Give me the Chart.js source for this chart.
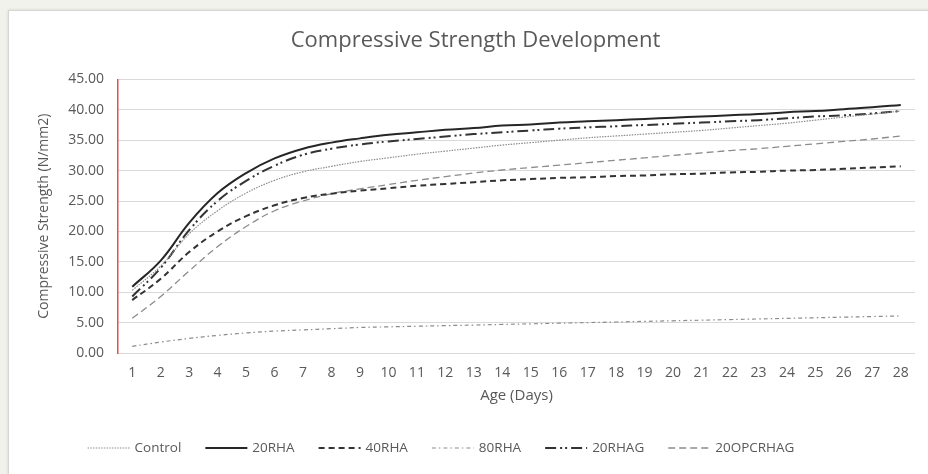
<!DOCTYPE html>
<html>
<head>
<meta charset="utf-8">
<script src="https://cdn.jsdelivr.net/npm/chart.js@4.4.1/dist/chart.umd.min.js"></script>
<style>
  html, body { margin: 0; padding: 0; }
  body { width: 928px; height: 474px; background: #f2f2ed; position: relative; overflow: hidden; }
  .card {
    position: absolute; left: 8px; top: 10px; width: 940px; height: 480px;
    background: #fff; border: 1px solid #d6d6d2; box-shadow: 0 0 3px rgba(0,0,0,0.12);
  }
  #wrap { position: absolute; left: 0; top: 0; width: 928px; height: 474px; }
</style>
</head>
<body>
<div class="card"></div>
<div id="wrap"><canvas id="chart"></canvas></div>
<script>
// ─── Dados ────────────────────────────────────────────────
const days = [1,2,3,4,5,6,7,8,9,10,11,12,13,14,15,16,17,18,19,20,21,22,23,24,25,26,27,28];

const control   = [10.3,14.3,19.6,23.4,26.3,28.4,29.8,30.7,31.5,32.1,32.7,33.2,33.7,34.2,34.6,35.0,35.4,35.7,36.0,36.3,36.6,37.0,37.4,37.8,38.3,38.8,39.3,39.8];
const rha20     = [10.9,15.2,21.4,26.3,29.6,32.0,33.6,34.6,35.3,35.9,36.3,36.7,37.0,37.4,37.6,37.9,38.1,38.3,38.5,38.7,38.9,39.1,39.3,39.6,39.8,40.1,40.4,40.8];
const rha40     = [8.7,12.2,16.6,20.0,22.5,24.3,25.5,26.2,26.7,27.1,27.5,27.8,28.1,28.4,28.6,28.8,28.9,29.1,29.2,29.4,29.5,29.7,29.8,30.0,30.1,30.3,30.5,30.7];
const rha80     = [1.1,1.8,2.4,2.9,3.3,3.6,3.8,4.0,4.2,4.3,4.4,4.5,4.6,4.7,4.8,4.9,5.0,5.1,5.2,5.3,5.4,5.5,5.6,5.7,5.8,5.9,6.0,6.1];
const rhag20    = [9.3,14.0,20.2,25.0,28.3,30.8,32.6,33.6,34.3,34.8,35.2,35.6,36.0,36.3,36.6,36.9,37.1,37.3,37.5,37.7,37.9,38.1,38.3,38.6,38.9,39.1,39.4,39.8];
const opcrhag20 = [5.7,9.3,13.5,17.5,20.8,23.4,25.0,26.2,27.0,27.7,28.4,29.0,29.6,30.1,30.5,30.9,31.3,31.7,32.1,32.5,32.9,33.3,33.6,34.0,34.4,34.8,35.2,35.7];

const yTicks = [0,5,10,15,20,25,30,35,40,45];

const TEXT = '#595959';
const FONT = "'Open Sans', sans-serif";

// ─── Estilos das séries ───────────────────────────────────
const series = [
  { label: 'Control',   data: control,   color: '#8c8c8c', width: 1.2, dash: [1.5, 1.2] },
  { label: '20RHA',     data: rha20,     color: '#262626', width: 2,   dash: [] },
  { label: '40RHA',     data: rha40,     color: '#333333', width: 2,   dash: [6, 4] },
  { label: '80RHA',     data: rha80,     color: '#8c8c8c', width: 1.2, dash: [4, 3, 1.5, 3] },
  { label: '20RHAG',    data: rhag20,    color: '#333333', width: 2,   dash: [11, 4, 2, 3, 2, 4] },
  { label: '20OPCRHAG', data: opcrhag20, color: '#8c8c8c', width: 1.3, dash: [7, 4] },
];

// ─── Legenda desenhada à mão (linhas tracejadas) ──────────
const bottomLegend = {
  id: 'bottomLegend',
  afterDraw(chart) {
    const ctx = chart.ctx;
    const lineLen = 42, gap = 5, itemGap = 24, y = 448;
    ctx.save();
    ctx.font = `13.5px ${FONT}`;
    const widths = series.map(s => lineLen + gap + ctx.measureText(s.label).width);
    const total = widths.reduce((a, b) => a + b, 0) + itemGap * (series.length - 1);
    let x = 441 - total / 2;
    series.forEach((s, i) => {
      ctx.beginPath();
      ctx.setLineDash(s.dash);
      ctx.lineWidth = s.width;
      ctx.strokeStyle = s.color;
      ctx.moveTo(x, y);
      ctx.lineTo(x + lineLen, y);
      ctx.stroke();
      ctx.setLineDash([]);
      ctx.fillStyle = TEXT;
      ctx.textBaseline = 'middle';
      ctx.fillText(s.label, x + lineLen + gap, y);
      x += widths[i] + itemGap;
    });
    ctx.restore();
  }
};

new Chart(document.getElementById('chart'), {
  type: 'line',
  data: {
    labels: days,
    datasets: series.map(s => ({
      label: s.label,
      data: s.data,
      borderColor: s.color,
      borderWidth: s.width,
      borderDash: s.dash,
      pointRadius: 0,
      fill: false,
      tension: 0.4,
    }))
  },
  options: {
    responsive: true,
    maintainAspectRatio: false,
    animation: false,
    layout: { padding: { left: 36, right: 13, top: 10, bottom: 63 } },
    plugins: {
      legend: { display: false },
      tooltip: { enabled: false },
      title: {
        display: true,
        text: 'Compressive Strength Development',
        color: TEXT,
        font: { family: FONT, size: 22, weight: 'normal' },
        padding: { top: 18, bottom: 25 }
      }
    },
    scales: {
      x: {
        offset: true,
        grid: { display: false, drawTicks: false },
        border: { display: false },
        ticks: { color: TEXT, font: { family: FONT, size: 14 }, padding: 12, maxRotation: 0, autoSkip: false },
        title: {
          display: true, text: 'Age (Days)', color: TEXT,
          font: { family: FONT, size: 15 }, padding: { top: 2, bottom: 6 }
        },
        afterFit(scale) { scale.height = 58; }
      },
      y: {
        min: 0,
        max: 45,
        afterBuildTicks(scale) { scale.ticks = yTicks.map(v => ({ value: v })); },
        grid: { color: '#d9d9d9', lineWidth: 1, drawTicks: false },
        border: { display: true, color: '#e2504c', width: 1.5 },
        ticks: { color: TEXT, font: { family: FONT, size: 14 }, padding: 14, callback: v => v.toFixed(2) },
        title: {
          display: true, text: 'Compressive Strength (N/mm2)', color: TEXT,
          font: { family: FONT, size: 14 }, padding: { top: 0, bottom: 0 }
        },
        afterFit(scale) { scale.width = 82; }
      }
    }
  },
  plugins: [bottomLegend]
});
</script>
</body>
</html>
